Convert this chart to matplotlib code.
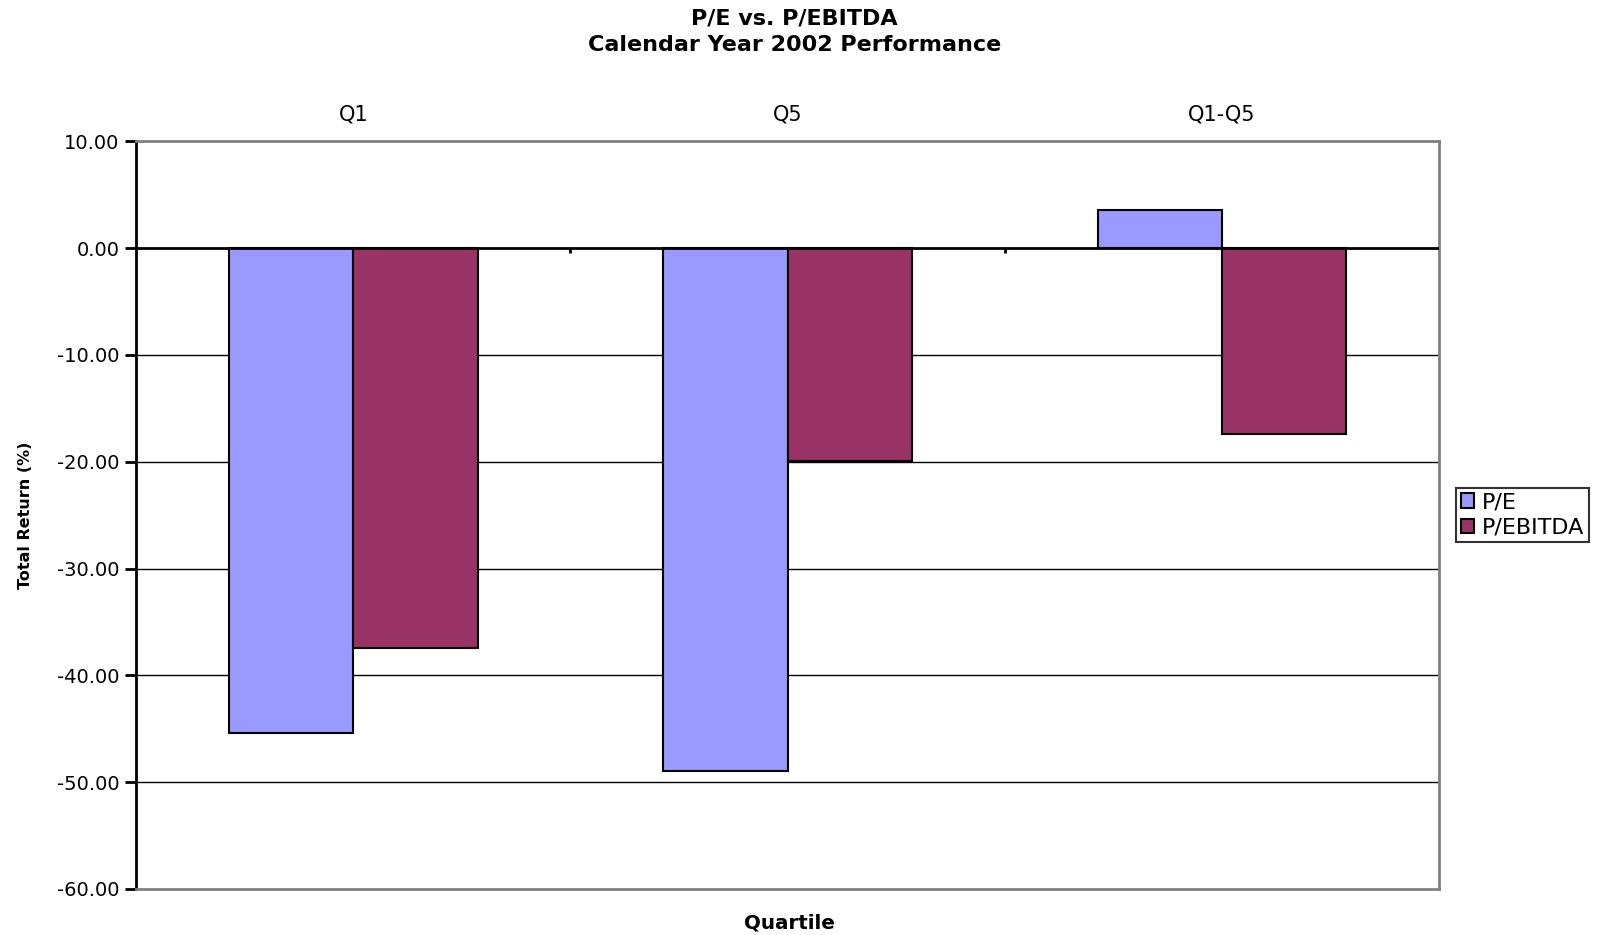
import matplotlib
matplotlib.use("Agg")
import matplotlib.pyplot as plt
import numpy as np

categories = ["Q1", "Q5", "Q1-Q5"]
pe_values = [-45.4, -49.0, 3.6]
pebitda_values = [-37.4, -19.9, -17.4]
series_names = ["P/E", "P/EBITDA"]
yticks = [10, 0, -10, -20, -30, -40, -50, -60]

plt.rcParams['font.family'] = ['DejaVu Sans']

W, H = 1568.0, 913.0  # reference measurement frame
fig = plt.figure(figsize=(16.06, 9.35), dpi=100)
ax = fig.add_axes([133/W, 1-868/H, (1405-133)/W, (868-138)/H])

x = np.arange(len(categories))
w = 0.286
ax.bar(x - w/2, pe_values, w, color="#9999FF", edgecolor="black", linewidth=1.5,
       label=series_names[0], zorder=3)
ax.bar(x + w/2, pebitda_values, w, color="#993366", edgecolor="black", linewidth=1.5,
       label=series_names[1], zorder=3)

ax.set_xlim(-0.5, len(categories) - 0.5)
ax.set_ylim(-60, 10)
ax.set_yticks(yticks)
ax.set_yticklabels([f"{v:.2f}" for v in yticks], fontsize=14)
for v in yticks[2:-1]:
    ax.axhline(v, color="black", linewidth=1, zorder=1)
ax.axhline(0, color="black", linewidth=2, zorder=4)
ax.vlines([0.5, 1.5], -0.5, 0, colors="black", linewidth=2, zorder=4)

ax.xaxis.tick_top()
ax.set_xticks(x)
ax.set_xticklabels(categories, fontsize=15)
ax.tick_params(axis='x', length=0, pad=12)
ax.tick_params(axis='y', length=8, width=2, direction='out', pad=4)

for s in ["top", "right", "bottom"]:
    ax.spines[s].set_color("#808080")
    ax.spines[s].set_linewidth(2)
ax.spines["left"].set_color("black")
ax.spines["left"].set_linewidth(2)

fig.text(776/W, 1 - 18/H, "P/E vs. P/EBITDA",
         ha="center", va="center", fontsize=16, fontweight="bold")
fig.text(776/W, 1 - 44/H, "Calendar Year 2002 Performance",
         ha="center", va="center", fontsize=16, fontweight="bold")
fig.text(771/W, 1 - 901/H, "Quartile", ha="center", va="center",
         fontsize=14.3, fontweight="bold")
fig.text(25/W, 1 - 503/H, "Total Return (%)", ha="center", va="center",
         rotation=90, fontsize=11.5, fontweight="bold")

leg = fig.legend(loc="center left", bbox_to_anchor=(1422/W, 1 - 503/H),
                 fontsize=16, frameon=True, fancybox=False, edgecolor="black",
                 handlelength=0.6, handleheight=0.6, handletextpad=0.35,
                 borderpad=0.2, labelspacing=0.25, borderaxespad=0)
leg.get_frame().set_linewidth(1.5)

fig.savefig("out.png", dpi=100, facecolor="white")
